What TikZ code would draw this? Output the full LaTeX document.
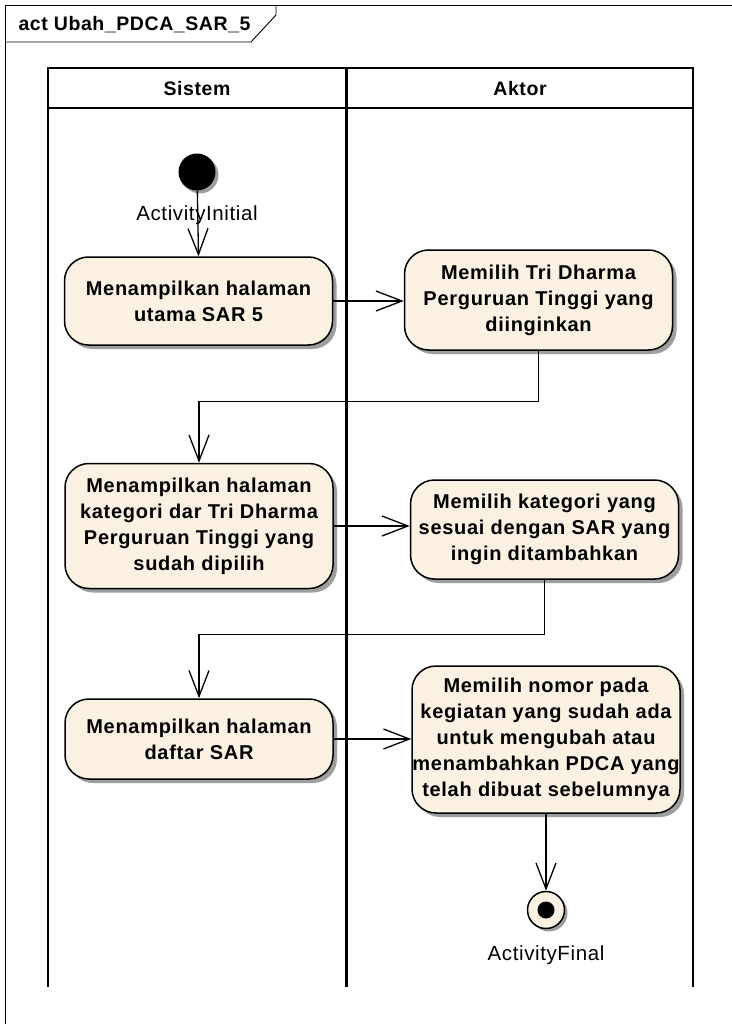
\documentclass[tikz,border=0pt]{standalone}
\usepackage{fontspec}
\setmainfont{Liberation Sans}
\newfontfamily\boxfont[LetterSpace=3]{Liberation Sans}
\newfontfamily\actfont[LetterSpace=3.5]{Liberation Sans}
\usetikzlibrary{arrows.meta,shadows}
\definecolor{actfill}{RGB}{251,241,227}
\begin{document}
\begin{tikzpicture}[x=1pt,y=-1pt,
  act/.style={draw=black, line width=1.5pt, fill=actfill, rounded corners=24pt,
    minimum width=268pt, inner sep=0pt, align=center,
    font=\actfont\bfseries\fontsize{20}{26}\selectfont,
    drop shadow={shadow xshift=4pt, shadow yshift=-4pt, fill=black!38, opacity=1}},
  flow/.style={draw=black, line width=1.3pt,
    -{Straight Barb[length=26pt,width=20pt,line width=1.3pt]}},
  lane/.style={draw=black, line width=2.2pt},
  lanehead/.style={font=\boxfont\bfseries\fontsize{19.5}{24}\selectfont},
  lbl/.style={font=\boxfont\fontsize{20.5}{24}\selectfont},
  frameline/.style={draw=black, line width=0.9pt}]
\useasboundingbox (0,0) rectangle (731,1024);
\fill[white] (0,0) rectangle (731,1024);
% frame
\draw[frameline] (5,1040) -- (5,5) -- (745,5);
\draw[frameline] (5,42) -- (251,42) -- (276,15) -- (276,5);
\node[anchor=west, font=\boxfont\bfseries\fontsize{19.5}{24}\selectfont] (title) at (15,25) {act Ubah\_PDCA\_SAR\_5};
% lanes
\draw[lane] (48,987) -- (48,68) -- (693,68) -- (693,987);
\draw[lane] (48,108) -- (693,108);
\draw[lane] (346.5,68) -- (346.5,987);
\node[lanehead] (hsis) at (197,89) {Sistem};
\node[lanehead] (hakt) at (520,89) {Aktor};
% initial
\node[circle, fill=black, minimum size=37pt, inner sep=0pt,
  drop shadow={shadow xshift=3pt, shadow yshift=-3pt, fill=black!38, opacity=1}] (init) at (197,172) {};
\node[lbl] (initl) at (197,215) {ActivityInitial};
% activities
\node[act, minimum height=88pt] (a1) at (198.5,301) {Menampilkan halaman\\utama SAR 5};
\node[act, minimum height=100pt] (a2) at (538.5,300) {Memilih Tri Dharma\\Perguruan Tinggi yang\\diinginkan};
\node[act, minimum height=125pt] (a3) at (199,526) {Menampilkan halaman\\kategori dar Tri Dharma\\Perguruan Tinggi yang\\sudah dipilih};
\node[act, minimum height=99pt] (a4) at (544.5,529.5) {Memilih kategori yang\\sesuai dengan SAR yang\\ingin ditambahkan};
\node[act, minimum height=80pt] (a5) at (199,739) {Menampilkan halaman\\daftar SAR};
\node[act, minimum height=147pt] (a6) at (546,739.5) {Memilih nomor pada\\kegiatan yang sudah ada\\untuk mengubah atau\\menambahkan PDCA yang\\telah dibuat sebelumnya};
% final
\node[circle, draw=black, line width=1.5pt, fill=actfill, minimum size=37pt, inner sep=0pt,
  drop shadow={shadow xshift=3pt, shadow yshift=-3pt, fill=black!38, opacity=1}] (fin) at (546,910) {};
\node[circle, fill=black, minimum size=17pt, inner sep=0pt] (finc) at (fin.center) {};
\node[lbl] (finl) at (546,955) {ActivityFinal};
% bends
\path (a3.north) ++(0,-61) coordinate (k1);
\path (a5.north) ++(0,-64) coordinate (k2);
% flows
\draw[flow] (init) -- (a1.north);
\draw[flow] (a1.east) -- (a1.east -| a2.west);
\draw[flow] (a2.south) |- (k1) -- (a3.north);
\draw[flow] (a3.east) -- (a3.east -| a4.west);
\draw[flow] (a4.south) |- (k2) -- (a5.north);
\draw[flow] (a5.east) -- (a5.east -| a6.west);
\draw[flow] (a6.south) -- (fin.north);
\end{tikzpicture}
\end{document}
